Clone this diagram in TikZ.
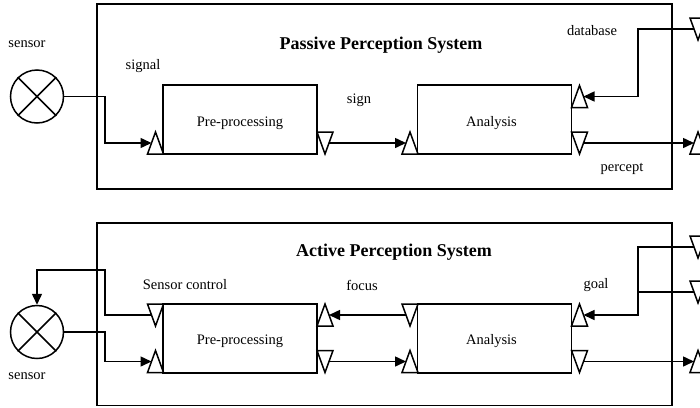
\documentclass[tikz,border=0pt]{standalone}
\usepackage{fontspec}
\setmainfont{Liberation Serif}
\usetikzlibrary{arrows.meta,calc}
\tikzset{
  ln/.style={line width=1.5pt},
  arr/.style={line width=1.5pt,-{Triangle[length=11pt,width=10pt]}},
  frame/.style={draw,line width=1.4pt},
  box/.style={draw,line width=1.5pt,inner sep=0pt,minimum width=154pt,minimum height=69pt},
  lbl/.style={font=\fontsize{14.5}{16}\selectfont,inner sep=0pt},
  ttl/.style={font=\fontsize{18}{20}\selectfont\bfseries,inner sep=0pt},
  sens/.style={draw,circle,line width=1.5pt,minimum size=53pt,inner sep=0pt},
  port/.style={draw,line width=1.5pt,line join=miter,fill=white}
}
\newcommand\portup[3]{%
  \draw[port] (#2-8,#3+11) -- (#2,#3-11) -- (#2+8,#3+11) -- cycle;
  \coordinate (#1) at (#2,#3);
  \coordinate (#1l) at (#2-4,#3);
  \coordinate (#1r) at (#2+4,#3);}
\newcommand\portdn[3]{%
  \draw[port] (#2-8,#3-11) -- (#2,#3+11) -- (#2+8,#3-11) -- cycle;
  \coordinate (#1) at (#2,#3);
  \coordinate (#1l) at (#2-4,#3);
  \coordinate (#1r) at (#2+4,#3);}
\begin{document}
\begin{tikzpicture}[x=1pt,y=-1pt]
\useasboundingbox (0,0) rectangle (700,407);
\clip (0,0) rectangle (700,407);
% frames
\draw[frame] (97,4) rectangle (672,189);
\draw[frame] (97,223) rectangle (672,405.5);
% titles
\node[ttl] (t1) at (381,45) {Passive Perception System};
\node[ttl] (t2) at (394,252) {Active Perception System};
% boxes
\node[box] (pp1) at (240,119.5) {};
\node[box] (an1) at (494.5,119.5) {};
\node[box] (pp2) at (240,338.5) {};
\node[box] (an2) at (494.5,338.5) {};
\node[lbl] (pp1t) at ($(pp1)+(0,4)$) {Pre-processing};
\node[lbl] (an1t) at ($(an1)+(-3,4)$) {Analysis};
\node[lbl] (pp2t) at ($(pp2)+(0,3)$) {Pre-processing};
\node[lbl] (an2t) at ($(an2)+(-3,3)$) {Analysis};
% sensors
\node[sens] (s1) at (37,96.5) {};
\draw[ln] (s1.45) -- (s1.225) (s1.135) -- (s1.315);
\node[sens] (s2) at (37,332) {};
\draw[ln] (s2.45) -- (s2.225) (s2.135) -- (s2.315);
% labels
\node[lbl] (l1) at (27,44) {sensor};
\node[lbl] (l2) at (143,66) {signal};
\node[lbl] (l3) at (359,100) {sign};
\node[lbl] (l4) at (592,31) {database};
\node[lbl] (l5) at (622,169) {percept};
\node[lbl] (l6) at (185,285) {Sensor control};
\node[lbl] (l7) at (362,285) {focus};
\node[lbl] (l8) at (596,285) {goal};
\node[lbl] (l9) at (27,376) {sensor};
% ports top
\portup{A}{155.5}{143}
\portdn{B}{325}{143}
\portup{C}{410}{143}
\portup{D}{579.5}{96.5}
\portdn{E}{579.5}{143}
\portdn{F}{698}{29}
\portup{G}{698}{143}
% ports bottom
\portdn{H}{155.5}{315}
\portup{I}{155.5}{361.5}
\portup{J}{325}{315}
\portdn{K}{325}{361.5}
\portdn{L}{410}{315}
\portup{M}{410}{361.5}
\portup{N}{579.5}{315}
\portdn{O}{579.5}{361.5}
\portdn{P}{698}{247}
\portdn{Q}{698}{292}
\portup{R}{698}{361.5}
% connectors top
\draw[arr] (s1.east) -- (105,96.5) |- (Al);
\draw[arr] (Br) -- (Cl);
\draw[arr] (Fl) -- (638,29) |- (Dr);
\draw[arr] (Er) -- (Gl);
% connectors bottom
\draw[arr] (Hl) -- (105,315) |- (37,270) -- (s2.north);
\draw[arr] (s2.east) -- (105,332) |- (Il);
\draw[arr] (Ll) -- (Jr);
\draw[arr] (Kr) -- (Ml);
\draw[arr] (Pl) -- (638,247) |- (Nr);
\draw[ln] (Ql) -- (638,292);
\draw[arr] (Or) -- (Rl);
\end{tikzpicture}
\end{document}
